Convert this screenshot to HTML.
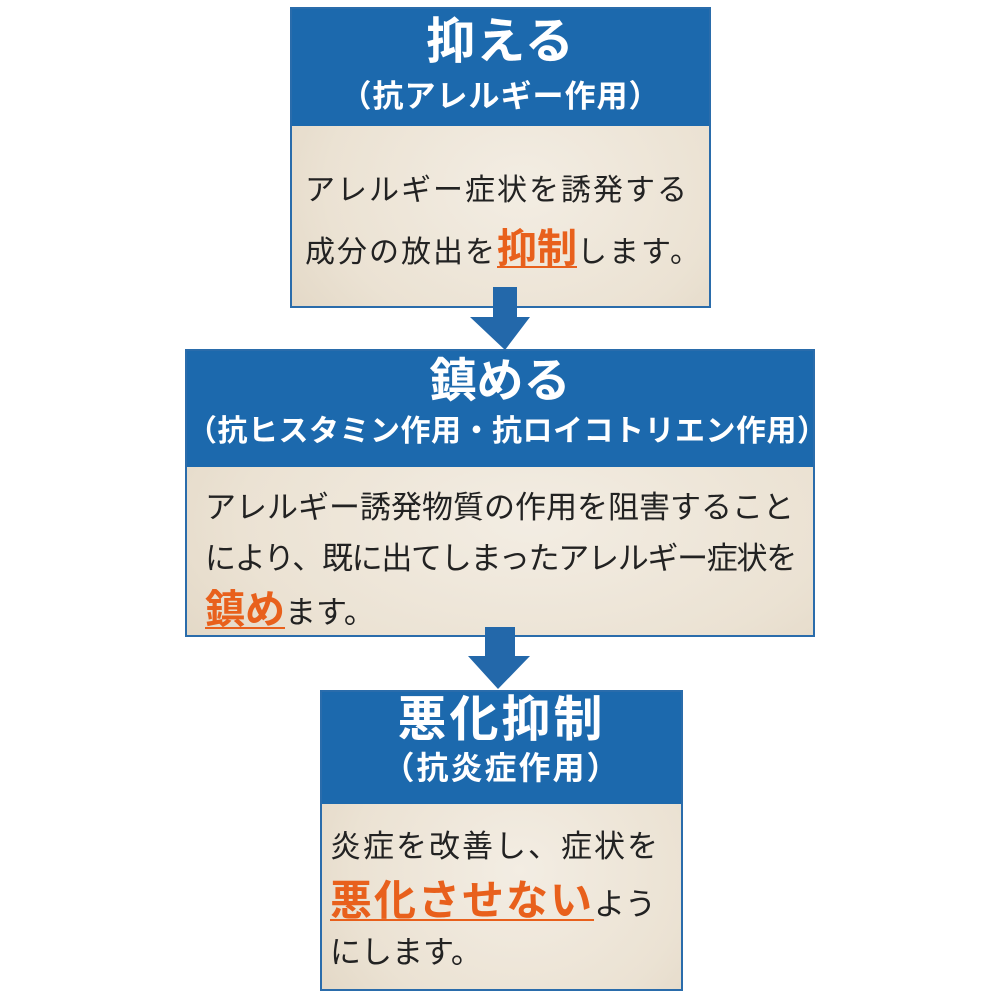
<!DOCTYPE html>
<html><head><meta charset="utf-8"><style>
*{margin:0;padding:0;box-sizing:border-box}
body{width:1000px;height:1000px;background:#fff;position:relative;overflow:hidden;font-family:"Liberation Sans","Noto Sans CJK JP",sans-serif}
.box{position:absolute;border:2px solid #2a6cab;background:radial-gradient(ellipse at 55% 60%,#f3ede3 0%,#ebe2d3 60%,#dfd3c0 100%)}
.hd{position:absolute;left:0;right:0;top:0;background:#1c69ad}
.t{position:absolute;left:0;right:0;text-align:center;white-space:nowrap}
.w{color:#fff;font-weight:bold}
.k{color:#222;position:absolute;white-space:nowrap}
.o{color:#e8601c;font-weight:bold;text-decoration:underline;text-decoration-thickness:2px;text-underline-offset:4px;letter-spacing:0}
.arrow{position:absolute}
</style></head><body>

<div class="box" style="left:290px;top:7px;width:421px;height:301px">
 <div class="hd" style="height:117px"></div>
 <div class="t w" style="top:4px;font-size:49px;line-height:58px;letter-spacing:1px">抑える</div>
 <div class="t w" style="top:69px;font-size:31px;line-height:38px;letter-spacing:1px">（抗アレルギー作用）</div>
 <div class="k" style="left:13px;top:162px;font-size:30px;line-height:40px;letter-spacing:2px">アレルギー症状を誘発する</div>
 <div class="k" style="left:13px;top:218px;font-size:30px;line-height:44px;letter-spacing:2px">成分の放出を<span class="o" style="font-size:40px">抑制</span>します。</div>
</div>

<svg class="arrow" style="left:460px;top:285px" width="80" height="70"><polygon points="33,2 57,2 57,32 70,32 45,65 10,32 33,32" fill="#2368aa"/></svg>

<div class="box" style="left:185px;top:349px;width:630px;height:288px">
 <div class="hd" style="height:116px"></div>
 <div class="t w" style="top:1px;font-size:47px;line-height:58px">鎮める</div>
 <div class="t w" style="top:61px;font-size:30px;line-height:40px;letter-spacing:0.5px">（抗ヒスタミン作用・抗ロイコトリエン作用）</div>
 <div class="k" style="left:18px;top:136px;font-size:31px;line-height:42px">アレルギー誘発物質の作用を阻害すること</div>
 <div class="k" style="left:18px;top:187px;font-size:31px;line-height:42px;letter-spacing:-1.3px">により、既に出てしまったアレルギー症状を</div>
 <div class="k" style="left:18px;top:236px;font-size:31px;line-height:46px"><span class="o" style="font-size:40px">鎮め</span>ます。</div>
</div>

<svg class="arrow" style="left:460px;top:625px" width="80" height="70"><polygon points="25,2 55,2 55,31 70,31 38,64 8,31 25,31" fill="#2368aa"/></svg>

<div class="box" style="left:320px;top:690px;width:363px;height:301px">
 <div class="hd" style="height:112px"></div>
 <div class="t w" style="top:-1px;font-size:49px;line-height:58px;letter-spacing:3px">悪化抑制</div>
 <div class="t w" style="top:56px;font-size:32px;line-height:40px;letter-spacing:2px">（抗炎症作用）</div>
 <div class="k" style="left:8px;top:134px;font-size:31px;line-height:42px;letter-spacing:2px">炎症を改善し、症状を</div>
 <div class="k" style="left:8px;top:184px;font-size:31px;line-height:50px"><span class="o" style="font-size:42px;letter-spacing:2px">悪化させない</span>よう</div>
 <div class="k" style="left:8px;top:240px;font-size:31px;line-height:42px">にします。</div>
</div>

</body></html>
